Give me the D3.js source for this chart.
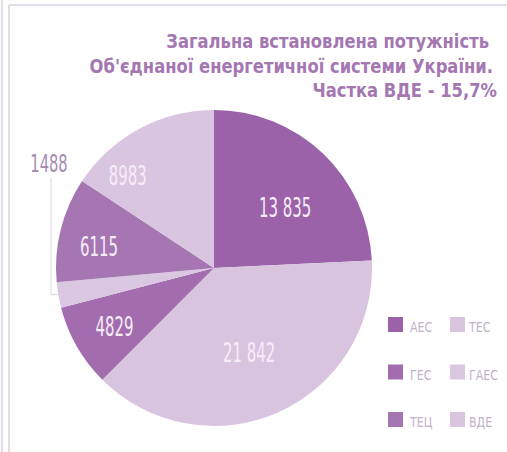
<!DOCTYPE html>
<html>
<head>
<meta charset="utf-8">
<script src="https://cdn.jsdelivr.net/npm/d3@7"></script>
<style>
  body { margin: 0; background: #fff; }
  svg text { font-family: "DejaVu Sans Condensed", "DejaVu Sans", sans-serif; font-stretch: condensed; }
</style>
</head>
<body>
<div id="chart"></div>
<script>
// data
var categories = ["АЕС", "ТЕС", "ГЕС", "ГАЕС", "ТЕЦ", "ВДЕ"];
var values = [13835, 21842, 4829, 1488, 6115, 8983];
var valueLabels = ["13 835", "21 842", "4829", "1488", "6115", "8983"];
var colors = ["#9b62a9", "#d9c4e0", "#a26caf", "#dac7e1", "#a676b3", "#d9c5e0"];
var titleLines = ["Загальна встановлена потужність", "Об'єднаної енергетичної системи України.", "Частка ВДЕ - 15,7%"];

var width = 507, height = 452;
var cx = 214, cy = 268, radius = 158;

// where each label sits inside its slice (fraction of slice angle, fraction of radius)
var labelAngleFrac = [0.57, 0.51, 0.48, 0.5, 0.41, 0.24];
var labelRadiusFrac = [0.59, 0.58, 0.73, 0, 0.74, 0.80];

var svg = d3.select("#chart").append("svg")
    .attr("width", width)
    .attr("height", height);

// frame lines
svg.append("line").attr("x1", 2).attr("x2", 2).attr("y1", 0).attr("y2", height)
    .attr("stroke", "#ddd0e4").attr("stroke-width", 1.5);
svg.append("line").attr("x1", 9).attr("x2", 9).attr("y1", 5).attr("y2", height)
    .attr("stroke", "#ddd0e4").attr("stroke-width", 1.5);
svg.append("line").attr("x1", 9).attr("x2", width).attr("y1", 5).attr("y2", 5)
    .attr("stroke", "#ddd0e4").attr("stroke-width", 1.5);

// title (condensed by horizontal scaling)
svg.append("g").selectAll("text")
    .data(titleLines)
    .enter().append("text")
    .attr("transform", function (d, i) {
        var x = i == 2 ? 497 : (i == 1 ? 493 : 489);
        return "translate(" + x + "," + (48 + i * 24.5) + ") scale(0.91,1)";
    })
    .attr("text-anchor", "end")
    .attr("font-size", 20)
    .attr("font-weight", "bold")
    .attr("fill", "#a477b2")
    .text(function (d) { return d; });

// pie
var pie = d3.pie().sort(null).value(function (d) { return d; });
var arc = d3.arc().innerRadius(0).outerRadius(radius);
var arcs = pie(values);

var g = svg.append("g").attr("transform", "translate(" + cx + "," + cy + ")");

g.selectAll("path")
    .data(arcs)
    .enter().append("path")
    .attr("d", arc)
    .attr("fill", function (d, i) { return colors[i]; });

g.selectAll(".lbl")
    .data(arcs.filter(function (d) { return d.index !== 3; }))
    .enter().append("text")
    .attr("class", "lbl")
    .attr("transform", function (d) {
        var i = d.index;
        var a = d.startAngle + (d.endAngle - d.startAngle) * labelAngleFrac[i];
        var r = radius * labelRadiusFrac[i];
        return "translate(" + (Math.sin(a) * r) + "," + (-Math.cos(a) * r) + ") scale(0.64,1)";
    })
    .attr("text-anchor", "middle")
    .attr("dy", "0.36em")
    .attr("font-size", 26)
    .attr("fill", "#f6ecf8")
    .text(function (d) { return valueLabels[d.index]; });

// outside label for the small slice, with bracket line
var small = arcs[3];
var sa = (small.startAngle + small.endAngle) / 2;
var edgeY = cy - Math.cos(sa) * radius * 0.98;
svg.append("path")
    .attr("d", "M51,178V" + edgeY + "H" + (cx + Math.sin(sa) * radius * 0.97))
    .attr("fill", "none")
    .attr("stroke", "#ddd3e2")
    .attr("stroke-width", 1);
svg.append("text")
    .attr("transform", "translate(49,172) scale(0.68,1)")
    .attr("text-anchor", "middle")
    .attr("font-size", 24)
    .attr("fill", "#a58cb1")
    .text(valueLabels[3]);

// legend
var legend = svg.append("g").selectAll("g")
    .data(categories)
    .enter().append("g")
    .attr("transform", function (d, i) {
        return "translate(" + (388 + (i % 2) * 62) + "," + (317 + Math.floor(i / 2) * 47.5) + ")";
    });
legend.append("rect")
    .attr("width", 15).attr("height", 15)
    .attr("fill", function (d, i) { return colors[i]; });
legend.append("text")
    .attr("transform", function (d, i) { return "translate(" + (i % 2 ? 19 : 22) + ",15) scale(0.88,1)"; })
    .attr("font-size", 14)
    .attr("fill", "#c0b2c8")
    .text(function (d) { return d; });
</script>
</body>
</html>
